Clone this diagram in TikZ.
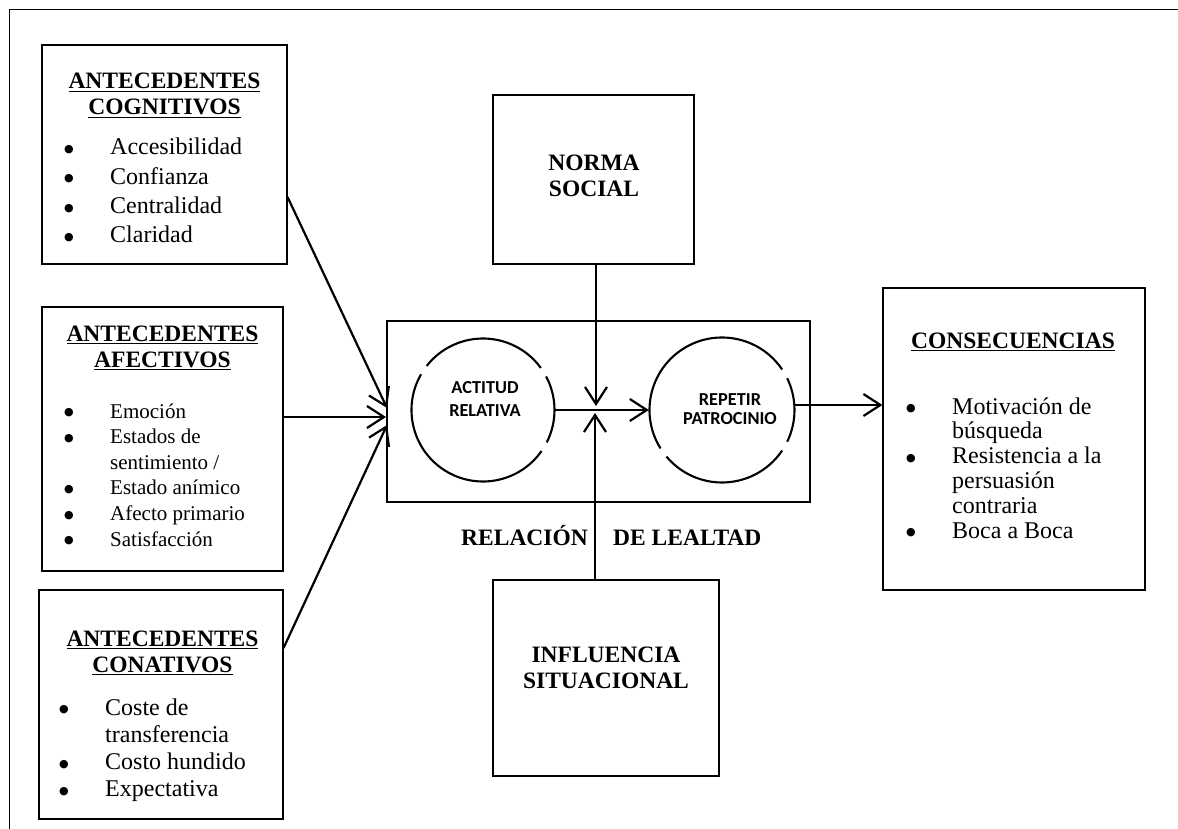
\documentclass[tikz,border=0pt]{standalone}
\usepackage{fontspec}
\setmainfont{Liberation Serif}
\newfontfamily\carl{Carlito}
\newfontfamily\dv{DejaVu Sans}
\usetikzlibrary{arrows.meta,calc}
\newcommand\myul[1]{\setbox0\hbox{#1}\rlap{\rule[-3.2pt]{\wd0}{1.5pt}}\box0}
\newcommand\bul{\makebox[46pt][l]{\raisebox{2.4pt}{\dv\fontsize{11}{11}\selectfont ●}}}
\newcommand\nob{\makebox[46pt][l]{}}
\begin{document}
\begin{tikzpicture}[x=1pt,y=-1pt,
  frame/.style={line width=1.4pt},
  box/.style 2 args={draw,line width=1.1pt,inner sep=0pt,minimum width=#1,minimum height=#2},
  circ/.style={line width=2.1pt},
  arr/.style={line width=2.2pt,-{Straight Barb[length=17pt,width=22pt]}},
  hd/.style={anchor=base,inner sep=0pt,font=\fontsize{23.5}{26}\selectfont\bfseries},
  bl/.style={anchor=base west,inner sep=0pt},
  cl/.style={anchor=base,inner sep=0pt,font=\carl\bfseries\fontsize{18.3}{21}\selectfont}]
\useasboundingbox (0,0) rectangle (1178,829);
% outer frame
\draw[frame] (9.5,829) -- (9.5,9.5) -- (1178,9.5);

% boxes
\node[box={245pt}{219pt}] (cog) at (164.5,154.5) {};
\node[box={241pt}{264pt}] (aff) at (162.5,439) {};
\node[box={244pt}{229pt}] (con) at (161,704.5) {};
\node[box={201pt}{169pt}] (norma) at (593.5,179.5) {};
\node[box={226pt}{196pt}] (infl) at (606,678) {};
\node[box={423pt}{181pt}] (rel) at (598.5,411.5) {};
\node[box={262pt}{302pt}] (cons) at (1014,439) {};

% circles
\node[circle,minimum size=143pt,inner sep=0pt] (c1) at (483,410) {};
\node[circle,minimum size=146pt,inner sep=0pt] (c2) at (722,410) {};
\draw[circ] ([shift={(36:71.5pt)}]c1.center) arc[start angle=36,end angle=142,radius=71.5pt];
\draw[circ] ([shift={(150:71.5pt)}]c1.center) arc[start angle=150,end angle=325,radius=71.5pt];
\draw[circ] ([shift={(333:71.5pt)}]c1.center) arc[start angle=333,end angle=388,radius=71.5pt];
\draw[circ] ([shift={(34:72.5pt)}]c2.center) arc[start angle=34,end angle=212,radius=72.5pt];
\draw[circ] ([shift={(220:72.5pt)}]c2.center) arc[start angle=220,end angle=326,radius=72.5pt];
\draw[circ] ([shift={(334:72.5pt)}]c2.center) arc[start angle=334,end angle=386,radius=72.5pt];

% headings
\node[hd] (cogh) at (164.5,89) {\begin{tabular}[t]{@{}c@{}}\myul{ANTECEDENTES}\\\myul{COGNITIVOS}\end{tabular}};
\node[hd] (affh) at (162.5,341) {\begin{tabular}[t]{@{}c@{}}\myul{ANTECEDENTES}\\\myul{AFECTIVOS}\end{tabular}};
\node[hd] (conh) at (162.5,646) {\begin{tabular}[t]{@{}c@{}}\myul{ANTECEDENTES}\\\myul{CONATIVOS}\end{tabular}};
\node[hd] (consh) at (1013,348) {\myul{CONSECUENCIAS}};
\node[hd] (normat) at (594,171) {\begin{tabular}[t]{@{}c@{}}NORMA\\SOCIAL\end{tabular}};
\node[hd] (inflt) at (606,662) {\begin{tabular}[t]{@{}c@{}}INFLUENCIA\\SITUACIONAL\end{tabular}};
\node[hd,anchor=base west] (rl1) at (461,545) {RELACIÓN};
\node[hd,anchor=base west] (rl2) at (613,545) {DE LEALTAD};

% lists
\node[bl] (cogl) at (64,155) {\fontsize{24}{29.3}\selectfont\begin{tabular}[t]{@{}l@{}}\bul Accesibilidad\\\bul Confianza\\\bul Centralidad\\\bul Claridad\end{tabular}};
\node[bl] (affl) at (64,418) {\fontsize{21}{25.6}\selectfont\begin{tabular}[t]{@{}l@{}}\bul Emoción\\\bul Estados de\\\nob sentimiento /\\\bul Estado anímico\\\bul Afecto primario\\\bul Satisfacción\end{tabular}};
\node[bl] (conl) at (59,715) {\fontsize{24}{27.3}\selectfont\begin{tabular}[t]{@{}l@{}}\bul Coste de\\\nob transferencia\\\bul Costo hundido\\\bul Expectativa\end{tabular}};
\node[bl] (consl) at (906,414) {\fontsize{24}{24.8}\selectfont\begin{tabular}[t]{@{}l@{}}\bul Motivación de\\\nob búsqueda\\\bul Resistencia a la\\\nob persuasión\\\nob contraria\\\bul Boca a Boca\end{tabular}};

% circle labels
\node[cl] (c1t) at (485,393) {\begin{tabular}[t]{@{}c@{}}ACTITUD\\[2pt]RELATIVA\end{tabular}};
\node[cl] (c2t) at (730,405) {\begin{tabular}[t]{@{}c@{}}REPETIR\\[-2pt]PATROCINIO\end{tabular}};

% connectors
\coordinate (t1) at (387,408);
\coordinate (t2) at (386,417);
\coordinate (t3) at (387,425);
\coordinate (jt) at (596,406);
\coordinate (jb) at (595,413);
\draw[arr] ($(cog.east)+(0,42.5)$) -- (t1);
\draw[arr] ($(aff.east)+(0,-22)$) -- (t2);
\draw[arr] ($(con.east)+(0,-56.5)$) -- (t3);
\draw[arr] (c1.east) -- (c2.west);
\draw[arr] (norma.south -| jt) -- (jt);
\draw[arr] (infl.north -| jb) -- (jb);
\draw[arr] ($(c2.east)+(0,-5)$) -- ($(cons.west |- c2.east)+(0,-5)$);
\end{tikzpicture}
\end{document}
